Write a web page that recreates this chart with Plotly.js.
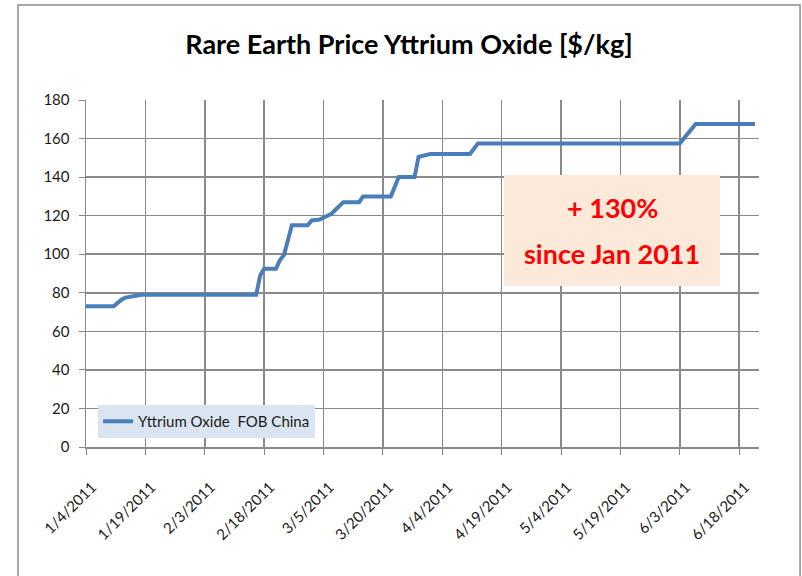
<!DOCTYPE html>
<html>
<head>
<meta charset="utf-8">
<script src="https://cdn.plot.ly/plotly-3.0.1.min.js"></script>
<style>
  html, body { margin: 0; padding: 0; background: #fff; }
  #chart { width: 802px; height: 576px; }
</style>
</head>
<body>
<div id="chart"></div>
<script>
// ─────────────────────────────
// Datos
// ─────────────────────────────
const fechas = [
  '2011-01-04', '2011-01-11', '2011-01-13', '2011-01-14', '2011-01-18',
  '2011-02-16', '2011-02-17', '2011-02-18', '2011-02-21', '2011-02-22',
  '2011-02-23', '2011-02-25', '2011-03-01', '2011-03-02', '2011-03-04',
  '2011-03-07', '2011-03-10', '2011-03-14', '2011-03-15', '2011-03-22',
  '2011-03-24', '2011-03-28', '2011-03-29', '2011-04-01', '2011-04-11',
  '2011-04-13', '2011-06-03', '2011-06-07', '2011-06-22'
];
const precios = [
  73, 73, 76.5, 77.5, 79,
  79, 89, 92.5, 92.5, 97,
  99.5, 115, 115, 117.5, 118,
  121, 127, 127, 130, 130,
  140, 140, 150.5, 152, 152,
  157.5, 157.5, 167.5, 167.5
];
const tickFechas = [
  '2011-01-04', '2011-01-19', '2011-02-03', '2011-02-18', '2011-03-05', '2011-03-20',
  '2011-04-04', '2011-04-19', '2011-05-04', '2011-05-19', '2011-06-03', '2011-06-18'
];
const tickTextos = [
  '1/4/2011', '1/19/2011', '2/3/2011', '2/18/2011', '3/5/2011', '3/20/2011',
  '4/4/2011', '4/19/2011', '5/4/2011', '5/19/2011', '6/3/2011', '6/18/2011'
];
const serieNombre = 'Yttrium Oxide  FOB China';
const titulo = 'Rare Earth Price Yttrium Oxide [$/kg]';
const notaLineas = ['+ 130%', 'since Jan 2011'];

// ─────────────────────────────
// Gráfica
// ─────────────────────────────
const FONT = 'Lato, "Open Sans", sans-serif';
const GRID = '#8a8a8a';

const traces = [{
  x: fechas,
  y: precios,
  name: serieNombre,
  type: 'scatter',
  mode: 'lines',
  line: { color: '#4a7ebb', width: 4 },
  showlegend: true
}];

const layout = {
  width: 802,
  height: 576,
  margin: { l: 86, r: 43, t: 100, b: 129 },
  paper_bgcolor: '#fff',
  plot_bgcolor: '#fff',
  font: { family: FONT, color: '#1a1a1a', size: 13 },
  title: {
    text: '<b>' + titulo + '</b>',
    font: { family: FONT, size: 27, color: '#000' },
    x: 0.51, xanchor: 'center',
    y: 0.922, yanchor: 'middle'
  },
  xaxis: {
    type: 'date',
    range: ['2011-01-04', '2011-06-23'],
    tickvals: tickFechas,
    ticktext: tickTextos,
    tickangle: -45,
    showgrid: true,
    gridcolor: GRID,
    gridwidth: 1.5,
    showline: true,
    linecolor: GRID,
    linewidth: 1.5,
    ticks: 'outside',
    ticklen: 6,
    tickcolor: GRID,
    ticklabelstandoff: 18,
    ticklabelshift: 6,
    tickfont: { family: FONT, size: 15, color: '#1a1a1a' },
    zeroline: false
  },
  yaxis: {
    range: [0, 180],
    dtick: 20,
    tick0: 0,
    showgrid: true,
    gridcolor: GRID,
    gridwidth: 1.5,
    showline: true,
    linecolor: GRID,
    linewidth: 1.5,
    ticks: 'outside',
    ticklen: 6,
    tickcolor: GRID,
    ticklabelstandoff: 6,
    tickfont: { family: FONT, size: 15, color: '#1a1a1a' },
    zeroline: false
  },
  legend: {
    x: 0.018, y: 0.121,
    xanchor: 'left', yanchor: 'top',
    bgcolor: '#dbe5f1',
    borderwidth: 0,
    font: { family: FONT, size: 15, color: '#1a1a1a' }
  },
  shapes: [
    // marco exterior
    {
      type: 'rect', xref: 'paper', yref: 'paper',
      x0: -0.101, x1: 1.061, y0: -0.40, y1: 1.274,
      line: { color: '#8c8c8c', width: 1.5 }
    },
    // caja de la nota
    {
      type: 'rect', xref: 'paper', yref: 'paper',
      x0: 0.6211, x1: 0.942, y0: 0.464, y1: 0.784,
      fillcolor: '#fde9d9', line: { width: 0 }, layer: 'above'
    }
  ],
  annotations: [
    {
      xref: 'paper', yref: 'paper', x: 0.7816, y: 0.689,
      xanchor: 'center', yanchor: 'middle',
      text: '<b>' + notaLineas[0] + '</b>', showarrow: false,
      font: { family: FONT, size: 27, color: '#ff0000' }
    },
    {
      xref: 'paper', yref: 'paper', x: 0.7816, y: 0.559,
      xanchor: 'center', yanchor: 'middle',
      text: '<b>' + notaLineas[1] + '</b>', showarrow: false,
      font: { family: FONT, size: 27, color: '#ff0000' }
    }
  ]
};

Plotly.newPlot('chart', traces, layout, { displayModeBar: false, staticPlot: true });
</script>
</body>
</html>
